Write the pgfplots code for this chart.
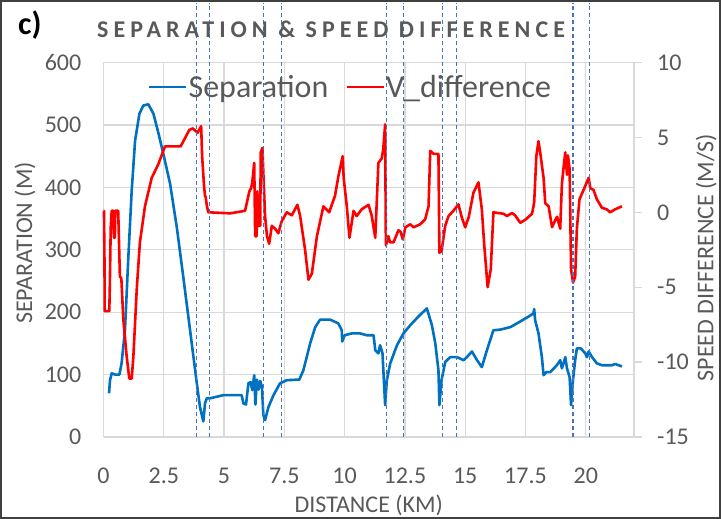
\documentclass[border=0pt]{standalone}
\usepackage{fontspec}
\setmainfont{Carlito}
\usepackage{pgfplots}
\pgfplotsset{compat=1.18}
\definecolor{txt}{HTML}{595959}
\definecolor{grd}{HTML}{D9D9D9}
\definecolor{sepblue}{HTML}{0070C0}
\definecolor{vred}{HTML}{FF0000}
\definecolor{dashc}{HTML}{4472C4}
\newcommand{\tfont}{\fontsize{24}{28}\selectfont}

\pgfplotstableread{
x s
0.23 70
0.27 91
0.34 102
0.48 100
0.66 100
0.75 118
0.89 171
1.03 288
1.17 395
1.31 475
1.49 518
1.65 531
1.86 533
2.07 518
2.27 488
2.48 454
2.76 406
3.04 336
3.31 256
3.59 171
3.87 86
4.00 48
4.14 25
4.21 54
4.28 62
4.42 62
4.97 67
5.73 67
5.80 54
5.91 52
6.01 86
6.10 88
6.17 75
6.25 99
6.30 52
6.36 92
6.43 76
6.50 90
6.57 80
6.63 35
6.70 27
6.84 48
7.05 67
7.32 86
7.60 91
8.12 92
8.29 107
8.57 150
8.78 176
8.98 188
9.40 188
9.74 182
9.88 171
9.90 153
10.00 163
10.30 166
10.64 166
10.92 163
11.20 163
11.27 139
11.40 134
11.47 147
11.57 134
11.68 51
11.75 91
11.89 118
12.17 147
12.44 166
12.72 179
13.06 193
13.41 206
13.62 179
13.76 150
13.89 107
13.93 51
14.02 91
14.17 120
14.38 128
14.66 128
14.93 123
15.07 128
15.28 137
15.49 123
15.69 112
15.90 139
16.17 171
16.45 172
16.87 176
17.28 185
17.63 193
17.83 198
17.86 205
17.90 187
18.04 166
18.18 128
18.25 99
18.37 104
18.53 104
18.80 115
18.94 123
19.01 110
19.08 118
19.15 128
19.22 110
19.33 96
19.39 51
19.47 91
19.56 123
19.63 142
19.79 142
19.98 134
20.05 128
20.12 137
20.26 128
20.46 118
20.67 115
21.09 115
21.22 117
21.50 113
}\septable

\pgfplotstableread{
x v
0.00 0.1
0.02 0.1
0.04 -3.1
0.05 -6.6
0.24 -6.6
0.26 -5.1
0.30 -1.0
0.34 0.1
0.41 0.1
0.43 -1.7
0.47 -1.7
0.49 0.1
0.61 0.1
0.64 -1.8
0.68 -4.3
0.74 -4.4
0.82 -7.1
0.96 -9.6
1.07 -11.1
1.17 -11.1
1.24 -9.6
1.38 -5.1
1.51 -2.0
1.72 0.4
2.00 2.3
2.27 3.2
2.55 4.4
3.20 4.4
3.56 5.5
3.70 5.6
3.84 5.4
3.90 5.3
4.05 5.75
4.09 3.75
4.17 1.75
4.21 1.1
4.24 1.0
4.28 0.5
4.33 0.1
4.35 0.0
5.25 -0.07
5.87 0.1
5.94 0.6
6.05 1.4
6.12 1.6
6.17 2.0
6.25 3.3
6.29 -1.6
6.35 -1.6
6.38 1.4
6.43 -0.9
6.50 -0.9
6.52 4.0
6.59 4.3
6.63 2.6
6.70 -0.25
6.78 -1.6
6.87 -2.1
6.98 -0.9
7.12 -1.1
7.25 -1.4
7.39 -0.6
7.60 0.0
7.81 -0.2
8.04 0.5
8.15 -0.2
8.36 -2.5
8.50 -4.5
8.64 -4.1
8.85 -1.6
9.12 0.4
9.36 0.0
9.60 1.1
9.74 2.4
9.92 3.75
9.96 2.3
10.09 0.4
10.20 -1.7
10.37 0.1
10.50 -0.25
10.71 0.2
10.99 0.5
11.12 -0.2
11.27 -1.7
11.40 3.3
11.54 3.6
11.60 4.2
11.68 5.87
11.71 -2.2
11.82 -1.6
11.88 -2.0
12.03 -2.0
12.23 -1.2
12.32 -1.3
12.41 -1.8
12.52 -1.0
12.72 -0.8
12.86 -1.0
13.13 -0.8
13.34 -0.47
13.48 0.4
13.55 4.1
13.69 3.9
13.89 3.9
13.93 -2.7
14.02 -2.6
14.17 -0.9
14.31 -0.25
14.51 0.1
14.72 0.53
14.86 -0.35
15.00 -1.0
15.15 -0.3
15.34 1.3
15.55 2.0
15.69 0.2
15.79 -2.2
15.93 -5.0
16.06 -3.8
16.17 0.0
16.38 -0.05
16.59 -0.1
16.73 -0.25
16.94 -0.05
17.07 -0.2
17.28 -0.7
17.49 -0.5
17.77 -0.1
17.86 0.64
17.95 3.75
18.04 4.75
18.11 4.0
18.25 2.3
18.32 0.6
18.46 0.4
18.60 -1.0
18.74 -0.5
18.81 -0.3
18.94 -1.1
19.01 1.9
19.08 3.0
19.15 4.0
19.22 2.5
19.26 3.8
19.33 2.9
19.39 -3.8
19.47 -4.7
19.56 -4.3
19.63 -1.1
19.74 0.87
19.91 1.5
20.12 2.3
20.19 1.6
20.32 1.5
20.46 0.87
20.67 0.3
20.87 0.2
21.01 0.0
21.22 0.2
21.50 0.4
}\vtable

\begin{document}
\begin{tikzpicture}[x=1pt,y=1pt]
\useasboundingbox (0,0) rectangle (721,519);
\begin{axis}[
  at={(103.5pt,82pt)}, anchor=south west,
  width=530.5pt, height=374.5pt, scale only axis,
  xmin=0, xmax=22, ymin=0, ymax=600,
  xtick={0,2.5,5,7.5,10,12.5,15,17.5,20},
  xticklabels={0,2.5,5,7.5,10,12.5,15,17.5,20},
  ytick={0,100,200,300,400,500,600},
  yticklabels={0,100,200,300,400,500,600},
  grid=major, major grid style={grd, line width=1.2pt},
  axis x line*=bottom, axis y line*=left,
  axis line style={grd, line width=1.2pt, -},
  major tick length=0pt,
  tick label style={font=\tfont, text=txt, inner sep=0pt},
  xticklabel style={yshift=-31pt},
  yticklabel style={xshift=-22pt},
  xlabel={DISTANCE (KM)},
  ylabel={SEPARATION (M)},
  every axis x label/.style={at={(axis description cs:0.5,-0.182)}, anchor=center, font=\tfont, text=txt},
  every axis y label/.style={at={(axis description cs:-0.148,0.518)}, rotate=90, anchor=center, font=\tfont, text=txt},
]
\addplot[sepblue, line width=2.6pt, line join=round] table[x=x, y=s] {\septable};
\end{axis}
\begin{axis}[
  at={(103.5pt,82pt)}, anchor=south west,
  width=530.5pt, height=374.5pt, scale only axis,
  xmin=0, xmax=22, ymin=-15, ymax=10,
  axis x line=none, axis y line*=right,
  axis line style={grd, line width=1.2pt, -},
  ytick={-15,-10,-5,0,5,10}, yticklabels={-15,-10,-5,0,5,10},
  tick style={grd, line width=1.2pt}, tick align=outside, major tick length=8pt,
  yticklabel style={font=\tfont, text=txt, inner sep=0pt, anchor=west, xshift=15pt},
  ylabel={SPEED DIFFERENCE (M/S)},
  every axis y label/.style={at={(axis description cs:1.136,0.479)}, rotate=90, anchor=center, font=\tfont, text=txt},
  clip=false,
  legend style={at={(axis description cs:0.0839,0.9346)}, anchor=west, draw=none, fill=none,
    inner sep=0pt, outer sep=0pt, font=\fontsize{32}{36}\selectfont, text=txt,
    nodes={inner sep=1pt},
    /tikz/every even column/.append style={column sep=16pt}},
  legend columns=2,
  legend image code/.code={\draw[#1] (0pt,0pt) -- (37pt,0pt);},
]
\addlegendimage{sepblue, line width=2.6pt}
\addlegendentry{Separation}
\addplot[vred, line width=2.6pt, line join=round] table[x=x, y=v] {\vtable};
\addlegendentry{V\_difference}
\foreach \xv in {3.87,4.38,6.63,7.37,11.75,12.44,14.07,14.63,19.47,20.16}{
  \edef\tmp{\noexpand\draw[dashc, line width=1.2pt, dash pattern=on 4pt off 3pt] (axis cs:\xv,-15) -- (axis cs:\xv,14);}
  \tmp
}
\end{axis}
\node[anchor=base west, inner sep=0pt, font=\fontsize{24}{28}\selectfont\bfseries\addfontfeatures{LetterSpace=21}, text=txt] at (97,481) {SEPARATION \& SPEED DIFFERENCE};
\node[anchor=base west, inner sep=0pt, font=\fontsize{32}{36}\selectfont\bfseries] at (18,484) {c)};
\draw[black!75, line width=2pt] (1,1) rectangle (720,518);
\end{tikzpicture}
\end{document}
